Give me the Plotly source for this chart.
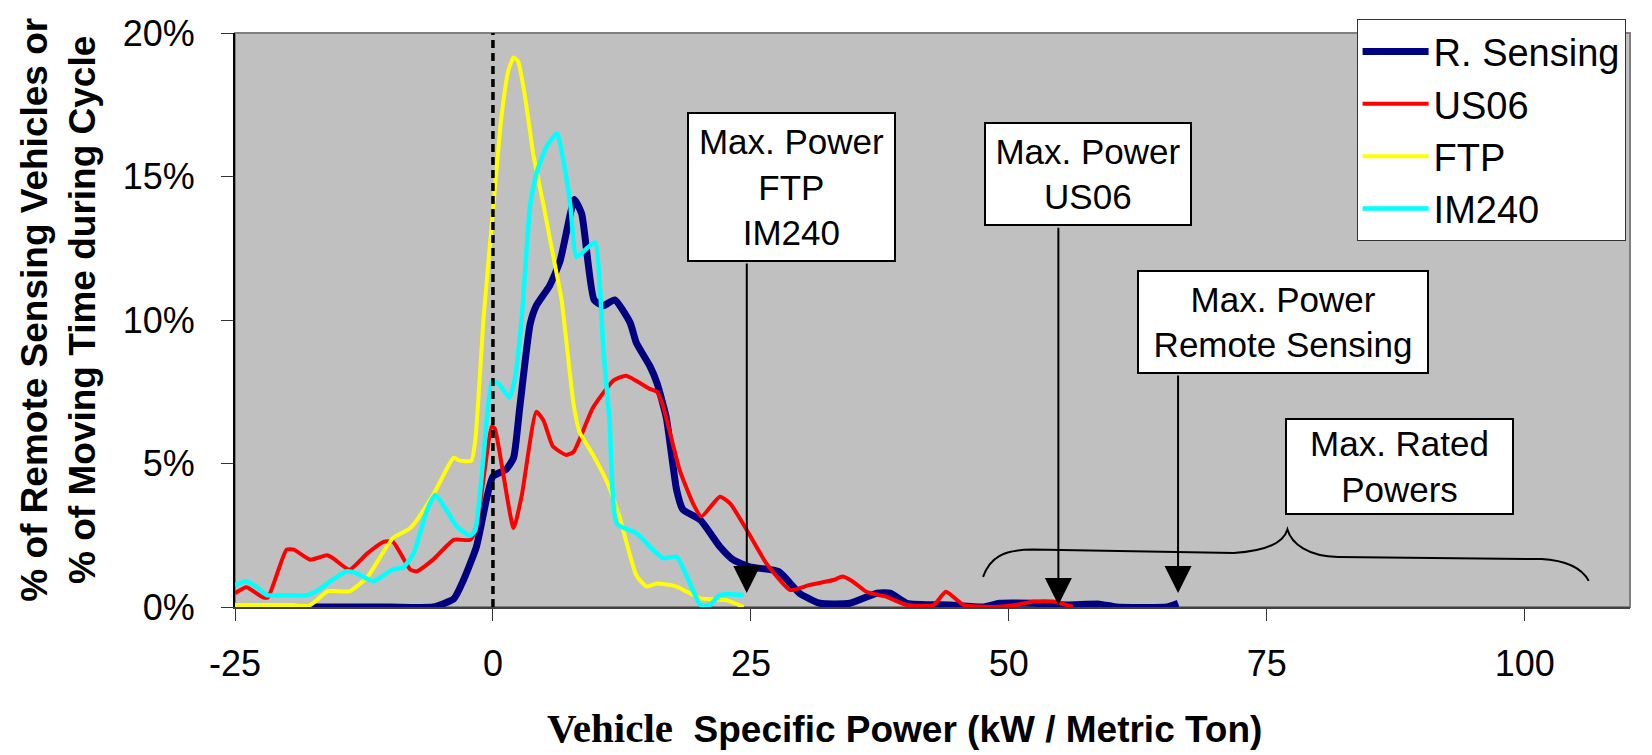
import plotly.graph_objects as go

# Vehicle specific power bins (kW / metric ton) and share of time / vehicles (%)
rs_vsp = [-24, -20, -15, -10, -5.8, -3.8, -2.9, -1.6, -0.6, 0.0, 1.3, 2.0, 2.6, 3.6, 4.2,
          5.5, 6.5, 7.5, 7.9, 8.6, 9.8, 10.7, 11.8, 13.3, 13.9, 15.2, 15.9, 16.8, 17.8, 18.4,
          20.1, 22.0, 23.3, 24.9, 27.7, 29.7, 31.7, 34.6, 37.2, 38.5, 40.1, 44.3, 47.5, 49.1,
          52.4, 55.6, 58.8, 60.4, 65.3, 66.4]
rs_pct = [0, 0, 0, 0, 0, 0.28, 0.9, 2.1, 3.8, 4.55, 4.8, 5.2, 6.96, 9.85, 10.5,
          11.2, 12.05, 13.7, 14.2, 13.7, 10.7, 10.5, 10.7, 9.9, 9.2, 8.4, 7.8, 6.6, 4.08, 3.4,
          3.03, 2.1, 1.64, 1.4, 1.23, 0.48, 0.13, 0.13, 0.48, 0.48, 0.13, 0.07, 0.0, 0.13,
          0.13, 0.07, 0.1, 0.0, 0.0, 0.13]

us06_vsp = [-25, -23.9, -22.3, -21.8, -20.0, -19.3, -17.7, -16.1, -15.5, -13.9, -12.2, -10.6,
            -9.7, -8.0, -7.4, -5.8, -3.8, -2.2, -1.6, -0.1, 0.2, 2.0, 2.8, 4.2, 4.9, 5.8, 7.1,
            7.8, 9.7, 11.7, 12.9, 15.2, 15.9, 16.5, 18.1, 19.4, 20.2, 22.0, 23.0, 24.6, 26.5,
            28.8, 30.7, 33.0, 33.9, 34.9, 36.2, 38.1, 40.1, 42.7, 43.9, 45.6, 48.5, 50.7,
            52.4, 54.3, 56.2]
us06_pct = [0.48, 0.69, 0.34, 0.34, 2.0, 2.0, 1.65, 1.8, 1.7, 1.3, 1.86, 2.27,
            2.27, 1.3, 1.24, 1.65, 2.34, 2.34, 2.8, 6.3, 6.2, 2.75, 3.9, 6.8, 6.5, 5.6, 5.3,
            5.4, 6.95, 7.9, 8.06, 7.6, 7.5, 6.98, 4.77, 3.6, 3.15, 3.84, 3.6, 2.68, 1.52,
            0.59, 0.77, 0.94, 1.06, 0.88, 0.53, 0.36, 0.07, 0.07, 0.53, 0.07, 0.0, 0.07,
            0.19, 0.19, 0.0]

ftp_vsp = [-25, -20, -17.7, -17.2, -16, -13.9, -12.2, -9.7, -8.0, -5.8, -3.8, -3.2, -2.1,
           -1.7, -0.9, 0.0, 0.8, 1.5, 2.0, 2.45, 3.1, 3.9, 4.9, 5.8, 6.65, 7.8, 8.4, 9.7,
           11.0, 12.3, 13.9, 14.9, 15.9, 17.8, 20.1, 22.6, 24.3]
ftp_pct = [0.07, 0.07, 0.07, 0.2, 0.55, 0.55, 1.03, 2.4, 2.75, 3.9, 5.2, 5.1, 5.1,
           5.85, 10.1, 13.8, 17.0, 18.7, 19.15, 19.0, 17.8, 15.8, 14.0, 12.3, 10.7, 7.1, 6.1,
           5.3, 4.4, 3.1, 1.1, 0.71, 0.82, 0.71, 0.3, 0.24, 0.0]

im240_vsp = [-25, -23.9, -22.9, -21.9, -20.0, -18.1, -17.1, -15.5, -14.2, -13.2, -11.6, -9.7,
             -8.7, -7.7, -6.4, -5.6, -4.5, -3.5, -2.2, -1.7, -0.9, -0.1, 0.5, 1.6, 2.1, 2.8,
             3.6, 4.2, 5.2, 6.2, 6.8, 7.5, 8.1, 9.1, 9.9, 10.4, 10.7, 11.3, 12.0, 13.9, 15.5,
             16.5, 17.8, 18.8, 20.1, 21.0, 22.0, 24.3]
im240_pct = [0.76, 0.9, 0.69, 0.41, 0.41, 0.41, 0.55, 0.96, 1.24, 1.17, 0.9, 1.31,
             1.38, 1.86, 3.37, 3.9, 3.37, 2.8, 2.48, 2.69, 5.3, 7.85, 7.8, 7.3, 7.9, 10.1,
             14.0, 15.1, 16.05, 16.5, 15.6, 14.0, 12.2, 12.5, 12.7, 10.95, 8.95, 6.5, 2.9, 2.57,
             1.99, 1.7, 1.75, 1.06, 0.07, 0.07, 0.42, 0.42]

series_names = ["R. Sensing", "US06", "FTP", "IM240"]

# Maximum observed power for each data source (kW / metric ton)
max_power_ftp_im240 = 24.6
max_power_us06 = 54.8
max_power_rs = 66.4

x_ticks = [-25, 0, 25, 50, 75, 100]
x_tick_text = ["-25", "0", "25", "50", "75", "100"]
y_ticks = [0, 5, 10, 15, 20]
y_tick_text = ["0%", "5%", "10%", "15%", "20%"]

FONT = "Liberation Sans, Arial, sans-serif"

fig = go.Figure()
styles = [("#000080", 7), ("#FF0000", 4), ("#FFFF00", 4), ("#00FFFF", 4.5)]
for name, xs, ys, (color, width) in zip(
        series_names,
        [rs_vsp, us06_vsp, ftp_vsp, im240_vsp],
        [rs_pct, us06_pct, ftp_pct, im240_pct],
        styles):
    fig.add_trace(go.Scatter(
        x=xs, y=ys, name=name, mode="lines",
        line=dict(color=color, width=width, shape="spline", smoothing=0.5),
    ))

X0, X1 = -25, 110.2

# plot frame, zero line and brace
shapes = [
    dict(type="rect", xref="paper", yref="paper", x0=0, x1=1, y0=0, y1=1,
         line=dict(color="#808080", width=2), layer="below"),
    dict(type="line", xref="x", yref="paper", x0=0, x1=0, y0=0, y1=1,
         line=dict(color="black", width=3.5, dash="8px,5px")),
    dict(type="path", xref="x", yref="y",
         path=("M 47.5,1.05 C 48.2,1.75 49.5,1.99 52.3,2.0 L 71.8,1.88 "
               "C 74.8,1.95 76.6,2.2 77.0,2.7 C 77.4,2.2 79.0,1.77 81.9,1.74 "
               "L 101.6,1.67 C 104.2,1.62 105.6,1.3 106.2,0.91"),
         line=dict(color="black", width=2)),
]

box_font = dict(family=FONT, size=35, color="black")
annotations = []
# arrows pointing to the maximum powers
for xp, tip, tail in [(max_power_ftp_im240, 0.49, 12.02),
                      (max_power_us06, 0.07, 13.27),
                      (max_power_rs, 0.49, 8.12)]:
    annotations.append(dict(
        x=xp, y=tip, ax=xp, ay=tail, xref="x", yref="y", axref="x", ayref="y",
        text="", showarrow=True, arrowhead=2, arrowsize=2.7, arrowwidth=2,
        arrowcolor="black", standoff=0))

for txt, cx, cy, w, h in [
        ("Max. Power<br>FTP<br>IM240", 28.9, 14.63, 197, 138),
        ("Max. Power<br>US06", 57.65, 15.09, 196, 92),
        ("Max. Power<br>Remote Sensing", 76.55, 9.93, 280, 92),
        ("Max. Rated<br>Powers", 87.84, 4.9, 217, 85)]:
    annotations.append(dict(
        x=cx, y=cy, xref="x", yref="y", text=txt, showarrow=False,
        font=box_font, align="center", bgcolor="white", bordercolor="black",
        borderwidth=2, borderpad=4, width=w, height=h, valign="middle"))

# axis titles
annotations.append(dict(
    xref="paper", yref="paper", x=-0.1265, y=0.517, xanchor="center", yanchor="middle",
    textangle=-90, showarrow=False,
    text="<b>% of Remote Sensing Vehicles or<br>% of Moving Time during Cycle</b>",
    font=dict(family=FONT, size=37, color="black")))
annotations.append(dict(
    xref="paper", yref="paper", x=0.48, y=-0.2544, xanchor="center", yanchor="bottom",
    showarrow=False,
    text=("<b><span style='font-family:Liberation Serif, Times New Roman, serif;"
          "font-size:41px'>Vehicle</span>  Specific Power (kW / Metric Ton)</b>"),
    font=dict(family=FONT, size=37, color="black")))

fig.update_layout(
    width=1652, height=755,
    margin=dict(l=235, r=22, t=33, b=148),
    paper_bgcolor="white", plot_bgcolor="#C0C0C0",
    font=dict(family=FONT, size=36, color="black"),
    shapes=shapes, annotations=annotations,
    legend=dict(x=0.804, y=1.024, xanchor="left", yanchor="top",
                bgcolor="white", bordercolor="#333333", borderwidth=1,
                font=dict(family=FONT, size=38, color="black"),
                itemwidth=66, tracegroupgap=0),
    xaxis=dict(range=[X0, X1], tickvals=x_ticks, ticktext=x_tick_text,
               ticks="outside", ticklen=12,
               tickcolor="#333333", showgrid=False, zeroline=False, showline=True,
               linecolor="#404040", linewidth=2, ticklabelstandoff=12,
               tickfont=dict(family=FONT, size=36, color="black")),
    yaxis=dict(range=[0, 20], tickvals=y_ticks, ticktext=y_tick_text,
               ticks="outside", ticklen=12,
               tickcolor="#333333", showgrid=False, zeroline=False, showline=True,
               linecolor="black", linewidth=2, ticklabelstandoff=19,
               tickfont=dict(family=FONT, size=36, color="black")),
)

fig.write_html("out.html")
